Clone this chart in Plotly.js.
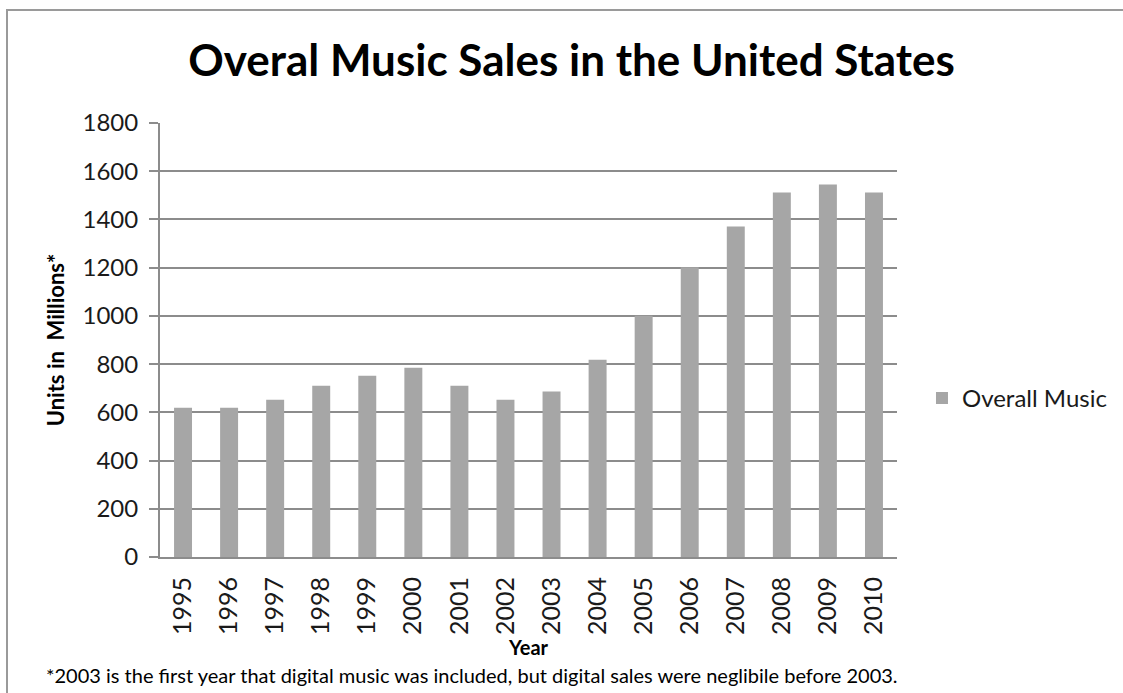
<!DOCTYPE html>
<html>
<head>
<meta charset="utf-8">
<script src="https://cdn.plot.ly/plotly-3.0.1.min.js"></script>
<style>
  html, body { margin: 0; padding: 0; background: #ffffff; }
  #wrap { position: relative; width: 1123px; height: 693px; overflow: hidden; }
  #frame { position: absolute; left: 6px; top: 9px; width: 1200px; height: 800px;
           border-left: 2px solid #9a9a9a; border-top: 2px solid #9a9a9a; pointer-events: none; z-index: 5; }
  #chart { position: absolute; left: 0; top: 0; width: 1123px; height: 693px; }
</style>
</head>
<body>
<div id="wrap">
  <div id="chart"></div>
  <div id="frame"></div>
</div>
<script>
const years = ["1995","1996","1997","1998","1999","2000","2001","2002","2003","2004","2005","2006","2007","2008","2009","2010"];
const overallMusic = [619, 619, 652, 710, 752, 785, 710, 652, 686, 818, 1001, 1202, 1371, 1512, 1545, 1512];
const yTicks = [0, 200, 400, 600, 800, 1000, 1200, 1400, 1600, 1800];
const seriesName = "Overall Music";
const chartTitle = "Overal Music Sales in the United States";
const xTitle = "Year";
const yTitle = "Units in&#160;&#160;Millions*";
const footnote = "*2003 is the first year that digital music was included, but digital sales were neglibile before 2003.";

const FONT = "Lato, 'Open Sans', sans-serif";

const trace = {
  type: "bar",
  x: years,
  y: overallMusic,
  name: seriesName,
  marker: { color: "#a6a6a6", line: { width: 0 } },
  showlegend: true,
  hoverinfo: "x+y"
};

const layout = {
  width: 1123,
  height: 693,
  paper_bgcolor: "#ffffff",
  plot_bgcolor: "#ffffff",
  margin: { l: 160, r: 225, t: 123, b: 136, pad: 0 },
  bargap: 0.61,
  font: { family: FONT, color: "#111111" },
  title: {
    text: "<b>" + chartTitle + "</b>",
    font: { family: FONT, size: 44, color: "#000000" },
    x: 0.509, xanchor: "center", xref: "container",
    y: 0.912, yanchor: "middle", yref: "container"
  },
  xaxis: {
    type: "category",
    categoryorder: "array",
    categoryarray: years,
    showgrid: false,
    showline: true,
    linecolor: "#8c8c8c",
    linewidth: 2,
    ticks: "",
    tickangle: -90,
    tickfont: { family: FONT, size: 25, color: "#1a1a1a" },
    ticklabelstandoff: 8,
    title: { text: "<b>" + xTitle + "</b>", font: { family: FONT, size: 20, color: "#000000" }, standoff: 6 },
    automargin: false,
    fixedrange: true
  },
  yaxis: {
    range: [0, 1800],
    tickvals: yTicks,
    ticktext: yTicks.map(String),
    showgrid: true,
    gridcolor: "#8c8c8c",
    gridwidth: 2,
    zeroline: false,
    showline: true,
    linecolor: "#8c8c8c",
    linewidth: 2,
    ticks: "outside",
    ticklen: 9,
    tickwidth: 2,
    tickcolor: "#8c8c8c",
    tickfont: { family: FONT, size: 24, color: "#1a1a1a" },
    ticklabelstandoff: 6,
    title: { text: "<b>" + yTitle + "</b>", font: { family: FONT, size: 22, color: "#000000" }, standoff: 12 },
    automargin: false,
    fixedrange: true
  },
  legend: {
    x: 1.0325, xanchor: "left", xref: "paper",
    y: 0.3655, yanchor: "middle",
    font: { family: FONT, size: 24, color: "#1a1a1a" },
    bgcolor: "rgba(0,0,0,0)",
    itemwidth: 30,
    tracegroupgap: 0
  },
  annotations: [
    {
      text: footnote,
      xref: "paper", yref: "paper",
      x: (44 - 160) / 738, y: -(675 - 556.7) / 434.2,
      xanchor: "left", yanchor: "middle",
      showarrow: false,
      font: { family: FONT, size: 20, color: "#000000" }
    }
  ]
};

Plotly.newPlot("chart", [trace], layout, { displayModeBar: false, staticPlot: true });
</script>
</body>
</html>
